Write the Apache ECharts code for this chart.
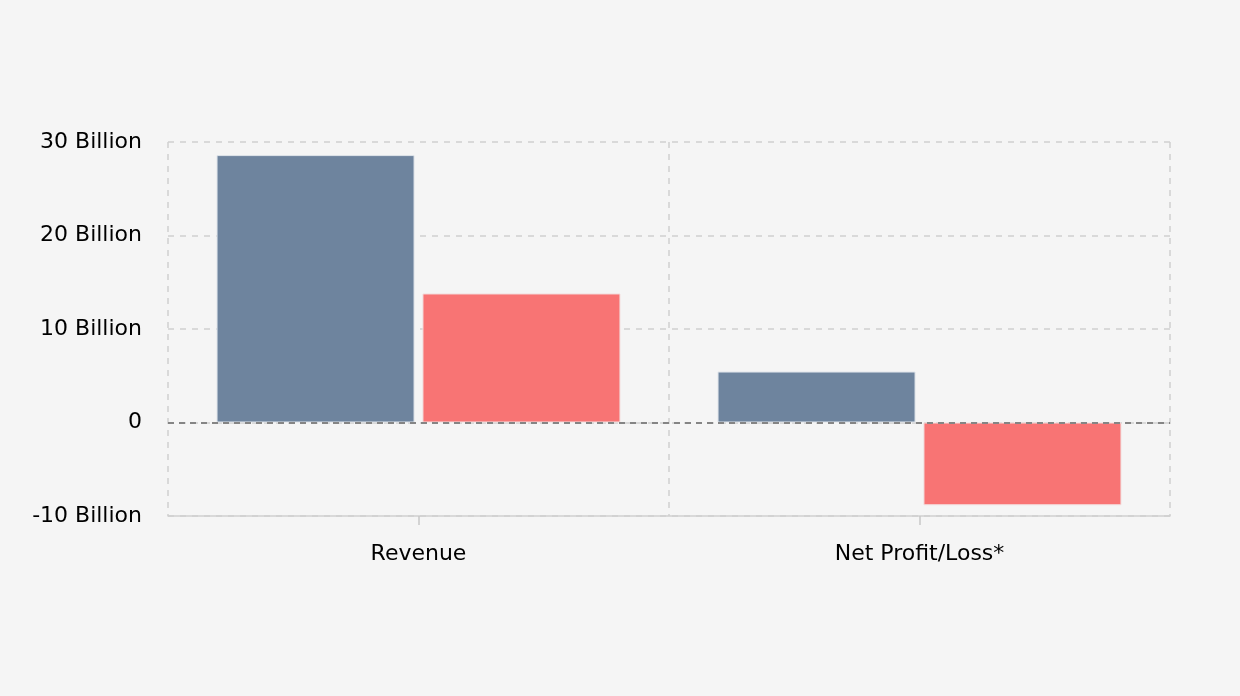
<!DOCTYPE html>
<html>
<head>
<meta charset="utf-8">
<script src="https://cdn.jsdelivr.net/npm/echarts@6/dist/echarts.min.js"></script>
<style>
html,body{margin:0;padding:0;background:#f5f5f5;}
#c{width:1240px;height:696px;}
</style>
</head>
<body>
<div id="c"></div>
<script>
const categories = ['Revenue', 'Net Profit/Loss*'];
const seriesA = [28.6, 5.45];
const seriesB = [13.8, -8.85];
const yTicks = [-10, 0, 10, 20, 30];

const chart = echarts.init(document.getElementById('c'));
const font = 'DejaVu Sans';
chart.setOption({
  backgroundColor: '#f5f5f5',
  animation: false,
  grid: {left: 168, right: 70, top: 142, bottom: 180, containLabel: false},
  xAxis: {
    type: 'category',
    data: categories,
    axisLine: {onZero: false, lineStyle: {color: '#d0d0d0', width: 1.5}},
    axisTick: {show: true, alignWithLabel: true, length: 9, lineStyle: {color: '#c8c8c8', width: 1.5}},
    axisLabel: {color: '#000', fontFamily: font, fontSize: 22, margin: 27},
    splitLine: {show: true, lineStyle: {color: '#d0d0d0', type: [6, 6], width: 1.5}}
  },
  yAxis: {
    type: 'value',
    min: yTicks[0],
    max: yTicks[yTicks.length - 1],
    interval: 10,
    axisLine: {show: false},
    axisTick: {show: false},
    axisLabel: {
      color: '#000', fontFamily: font, fontSize: 22, margin: 26,
      formatter: v => v === 0 ? '0' : v + ' Billion'
    },
    splitLine: {lineStyle: {color: '#d0d0d0', type: [6, 6], width: 1.5}}
  },
  series: [
    {
      type: 'bar', data: seriesA, barWidth: 198, barGap: '4%',
      itemStyle: {color: '#6e849e', borderColor: '#dfe4ea', borderWidth: 1},
      markLine: {
        silent: true, symbol: 'none', label: {show: false},
        lineStyle: {color: '#858585', type: [6, 5], width: 2},
        data: [{yAxis: 0}]
      },
      z: 2
    },
    {
      type: 'bar', data: seriesB, barWidth: 198, barGap: '4%',
      itemStyle: {color: '#f87474', borderColor: '#f3dede', borderWidth: 1},
      z: 2
    }
  ]
});
</script>
</body>
</html>
